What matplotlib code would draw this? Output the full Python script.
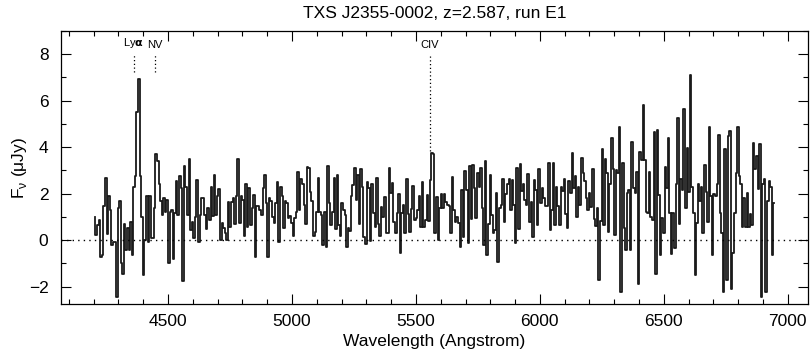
import numpy as np
import matplotlib
matplotlib.use("Agg")
import matplotlib.pyplot as plt
from matplotlib.ticker import MultipleLocator

plt.rcParams['font.family'] = ['Liberation Sans', 'DejaVu Sans']

title = "TXS J2355-0002, z=2.587, run E1"

# wavelength grid of the binned spectrum (Angstrom)
wave_start = 4204.0
wave_step = 6.36

# flux density (microJy) per bin
flux = [
    1.0, 0.2, 0.65, 0.87, -0.72, -0.65, 1.45, 2.68, 0.25, 1.9, 1.3, -0.2, -0.07, -0.07,
    -2.46, 1.38, 1.7, -1.0, -1.45, 0.7, -0.43, 0.5, -0.43, 0.77, -0.65, 2.3, 2.75, 5.5,
    6.95, 2.75, 1.0, -1.5, 0.0, 1.88, -0.07, 1.88, 0.07, 0.07, 1.38, 3.7, 3.4, 2.4, 1.67,
    1.1, 1.8, 1.23, 1.74, -1.0, 1.23, 1.3, -0.8, 1.16, 2.54, 1.1, 2.75, 2.25, -1.74, 3.19,
    2.3, 1.1, 3.48, 0.43, 0.8, 0.07, 1.0, 2.6, -0.07, 1.1, 1.8,
    # 4650-5120
    1.8, 1.1, 0.46, 1.38, 0.87, 2.3, 1.04, 2.8, 1.1, 1.88, 2.2, 0.0, 0.75, 0.5, 0.3, 0.0,
    1.62, 0.58, 1.62, 1.8, 0.7, 1.88, 3.48, 0.72, 1.88, 1.74, 0.19, 2.4, 0.58, 2.25, 0.65,
    1.38, 1.96, -0.72, 1.48, 1.45, 1.3, 1.1, 2.25, 2.8, 1.6, -0.72, 1.8, 1.67, 1.0, 0.75,
    1.6, 2.5, -0.07, 2.3, 1.88, 0.5, 1.67, 1.6, 0.94, 1.04, 0.72, 0.19, 0.94, 1.23, 2.94,
    1.28, 2.64, 2.4, 1.52, 0.7, 3.16, 3.12, 2.06, 1.67, 0.19, 0.36, 1.23, 2.68, 1.23, 1.1,
    -0.2,
    # 5120-5590
    1.23, -0.29, 3.2, 1.6, 0.65, 1.19, 2.68, 0.46, 2.8, 0.65, 0.19, 1.6, 1.3, 1.1, -0.29,
    0.5, 0.4, 1.88, 2.36, 3.1, 1.74, 2.8, 0.7, 3.07, 2.3, 0.14, -0.17, 2.5, 2.25, -0.03,
    2.4, 1.16, 0.58, 2.68, 0.7, 0.19, 1.42, 1.0, 1.86, 0.29, 0.29, 3.12, 2.03, 2.46, 0.8,
    0.29, 1.16, 2.0, -0.55, 1.16, 1.52, 0.29, 2.64, 1.13, 0.36, 1.33, 2.35, 0.87, 0.94,
    1.28, 1.88, 0.58, 2.5, 0.55, 0.87, 1.96, 0.84, 2.6, 3.77, 3.7, 0.29, 1.86, 0.0, 1.38,
    2.0,
    # 5590-6060
    1.38, 2.0, 1.62, 1.52, 1.48, 0.29, 2.72, 1.3, 0.8, 1.0, 0.72, -0.29, 2.17, 0.14, 2.97,
    2.17, -0.14, 3.19, 0.91, 3.23, 2.25, 0.94, 2.9, 2.3, 3.1, 1.38, -0.22, 3.4, -0.65, 0.7,
    2.8, 1.1, 0.29, 0.43, 2.03, -0.94, 1.38, 1.52, 2.64, 0.8, 2.0, 2.4, 2.64, 1.3, 2.6,
    1.52, -0.14, 3.12, 0.46, 3.26, 2.1, 2.4, 1.74, 1.52, 2.86, 0.8, 1.64, 0.12, 2.6, 2.17,
    0.65, 3.07, 1.6, 2.25, 1.8, 1.48, 1.45, 3.3, 0.43, 1.3, 3.33, 0.65, 2.3,
    # 6060-6520
    1.48, 0.65, 2.3, 2.1, 2.64, 1.13, 0.5, 2.54, 2.03, 3.77, 2.25, 2.78, 1.0, 2.3, 1.52,
    3.55, 2.9, 2.54, 1.8, 1.3, 2.03, 1.42, 3.04, 0.9, 0.61, 1.38, -1.71, 0.84, 3.91, 0.65,
    3.48, 2.9, 0.36, 2.4, 4.38, 3.04, 0.22, 3.01, 2.9, 4.86, -2.25, 3.3, 0.5, -0.43, 2.03,
    2.17, -0.43, 4.23, 2.25, 2.03, 2.93, -1.88, 3.81, 3.45, 5.83, 3.45, 1.23, 1.16, 2.93,
    1.0, 0.87, 4.64, -1.45, 4.75, 1.96, -0.65, 0.94, 0.29, 3.16, 2.25, 4.38, 1.16, -0.58,
    # 6520-6950
    1.16, -0.36, 2.4, 5.25, 0.68, 2.64, 2.14, 5.65, 1.38, 3.96, 2.06, 7.1, 2.3, 1.16,
    -1.52, 0.72, 2.42, 1.67, 2.3, 0.29, 3.22, 2.06, 0.8, 4.86, 1.88, -0.62, 2.0, 1.88, 2.4,
    4.52, 1.16, 0.29, -2.25, 3.91, -1.71, 4.49, 4.71, -2.1, -0.55, 1.16, 2.9, 4.86, 2.78,
    2.4, 0.58, 1.8, 0.55, 2.03, 0.58, 1.13, 0.65, 4.2, 3.07, 3.62, 2.2, 4.13, -2.46, 2.4,
    2.64, -2.25, 1.67, 2.54, 2.3, -0.65, 1.6,
]

# emission lines marked above the spectrum: label, observed wavelength, lower end of marker
line_names = ["Ly$\\mathbf{\\alpha}$", "NV", "CIV"]
line_waves = [4361.7, 4448.0, 5556.0]
line_marker_bottom = [7.25, 7.25, 3.85]

flux = np.array(flux)
wave = wave_start + wave_step * np.arange(len(flux))

fig = plt.figure(figsize=(8.10, 3.56), dpi=100)
ax = fig.add_axes([0.0753, 0.146, 0.922, 0.767])

ax.step(wave, flux, where='mid', color='#1a1a1a', lw=1.3)
ax.axhline(0.0, color='black', lw=1.0, ls=(0, (1, 3)))

for name, w, yb in zip(line_names, line_waves, line_marker_bottom):
    ax.plot([w, w], [yb, 7.95], color='black', lw=0.9, ls=(0, (1, 2)))
    ax.text(w, 8.2, name, ha='center', va='bottom', fontsize=8)

ax.set_xlim(4068, 7081)
ax.set_ylim(-2.75, 9.0)
ax.xaxis.set_major_locator(MultipleLocator(500))
ax.xaxis.set_minor_locator(MultipleLocator(100))
ax.yaxis.set_major_locator(MultipleLocator(2))
ax.yaxis.set_minor_locator(MultipleLocator(1))
ax.tick_params(which='both', direction='in', top=True, right=True, labelsize=12.5)
ax.tick_params(axis='x', which='major', pad=7)
ax.tick_params(axis='y', which='major', pad=9)
ax.tick_params(which='major', length=7, width=0.8)
ax.tick_params(which='minor', length=3.5, width=0.8)
for s in ax.spines.values():
    s.set_linewidth(0.9)

ax.set_title(title, fontsize=12.5, pad=9)
ax.set_xlabel("Wavelength (Angstrom)", fontsize=12.5, labelpad=4)
ax.set_ylabel("F$_{\\mathregular{\\nu}}$ (\u03bcJy)", fontsize=12.5, labelpad=0)

fig.savefig("out.png", dpi=100)
